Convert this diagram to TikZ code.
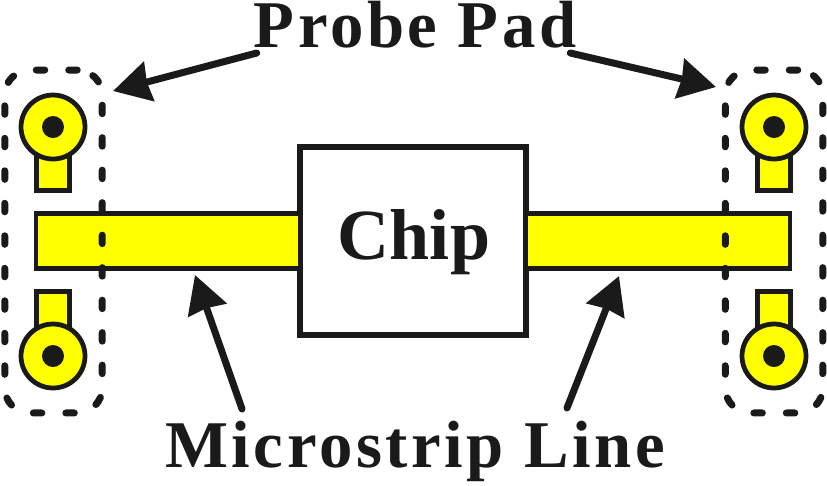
\documentclass[tikz,border=0pt]{standalone}
\usepackage{fontspec}
\setmainfont{Liberation Serif}
\newfontfamily\spacedfont[LetterSpace=5.4]{Liberation Serif}
\usetikzlibrary{arrows.meta, positioning}
\definecolor{inkblack}{HTML}{1A1A1A}
\definecolor{padyellow}{HTML}{FFFF00}

\begin{document}
\begin{tikzpicture}[
    x=0.02cm, y=-0.02cm,
    every node/.style={outer sep=0pt, inner sep=0pt},
    metal/.style={draw=inkblack, line width=0.095cm, fill=padyellow},
    stripbox/.style={metal, minimum width=5.28cm, minimum height=1.1cm},
    tabbox/.style={metal, minimum width=0.66cm, minimum height=0.82cm},
    padring/.style={metal, circle, minimum size=1.28cm},
    paddot/.style={circle, fill=inkblack, minimum size=0.44cm},
    chipbox/.style={draw=inkblack, line width=0.13cm, fill=white,
                    minimum width=4.52cm, minimum height=3.76cm},
    groupbox/.style={draw=inkblack, line width=0.14cm, rounded corners=0.5cm,
                     line cap=round, dash pattern=on 0.17cm off 0.48cm,
                     minimum width=1.95cm, minimum height=6.86cm},
    label/.style={font=\spacedfont\bfseries\fontsize{38}{42}\selectfont, text=inkblack},
    chiplabel/.style={font=\bfseries\fontsize{41}{44}\selectfont, text=inkblack},
    pointer/.style={-{Stealth[length=0.74cm, width=0.8cm, inset=0.04cm]},
                    draw=inkblack, line width=0.14cm, line cap=round}
  ]
  \useasboundingbox (0,0) rectangle (827,485);
  % chip and the two lines
  \node[chipbox] (chip) at (413,241) {};
  \node[stripbox, left=0pt of chip] (stripl) {};
  \node[stripbox, right=0pt of chip] (stripr) {};
  % probe pads
  \foreach \padname/\padx/\pady/\taby in {tl/53/127/170, bl/53/356/312,
                                          tr/774/127/170, br/774/356/312} {
    \node[tabbox] (tab\padname) at (\padx,\taby) {};
    \node[padring] (ring\padname) at (\padx,\pady) {};
    \node[paddot] (dot\padname) at (\padx,\pady) {};
  }
  % dashed groups
  \node[groupbox] (groupl) at (53.5,241.5) {};
  \node[groupbox] (groupr) at (774,241.5) {};
  % labels
  \node[label, anchor=base] (probe) at (415,47) {Probe Pad};
  \node[chiplabel, anchor=base] (chiptext) at (414,259) {Chip};
  \node[label, anchor=base] (micro) at (415,467) {Microstrip Line};
  % arrows
  \coordinate (tipl) at (113,91);
  \coordinate (tipr) at (716,87);
  \coordinate (tipa) at (195,275);
  \coordinate (tipb) at (619,276);
  \draw[pointer] ([shift={(3,6)}]probe.base west) -- (tipl);
  \draw[pointer] ([shift={(-6,6)}]probe.base east) -- (tipr);
  \draw[pointer] ([shift={(77,-58)}]micro.base west) -- (tipa);
  \draw[pointer] ([shift={(-98,-59)}]micro.base east) -- (tipb);
\end{tikzpicture}
\end{document}
